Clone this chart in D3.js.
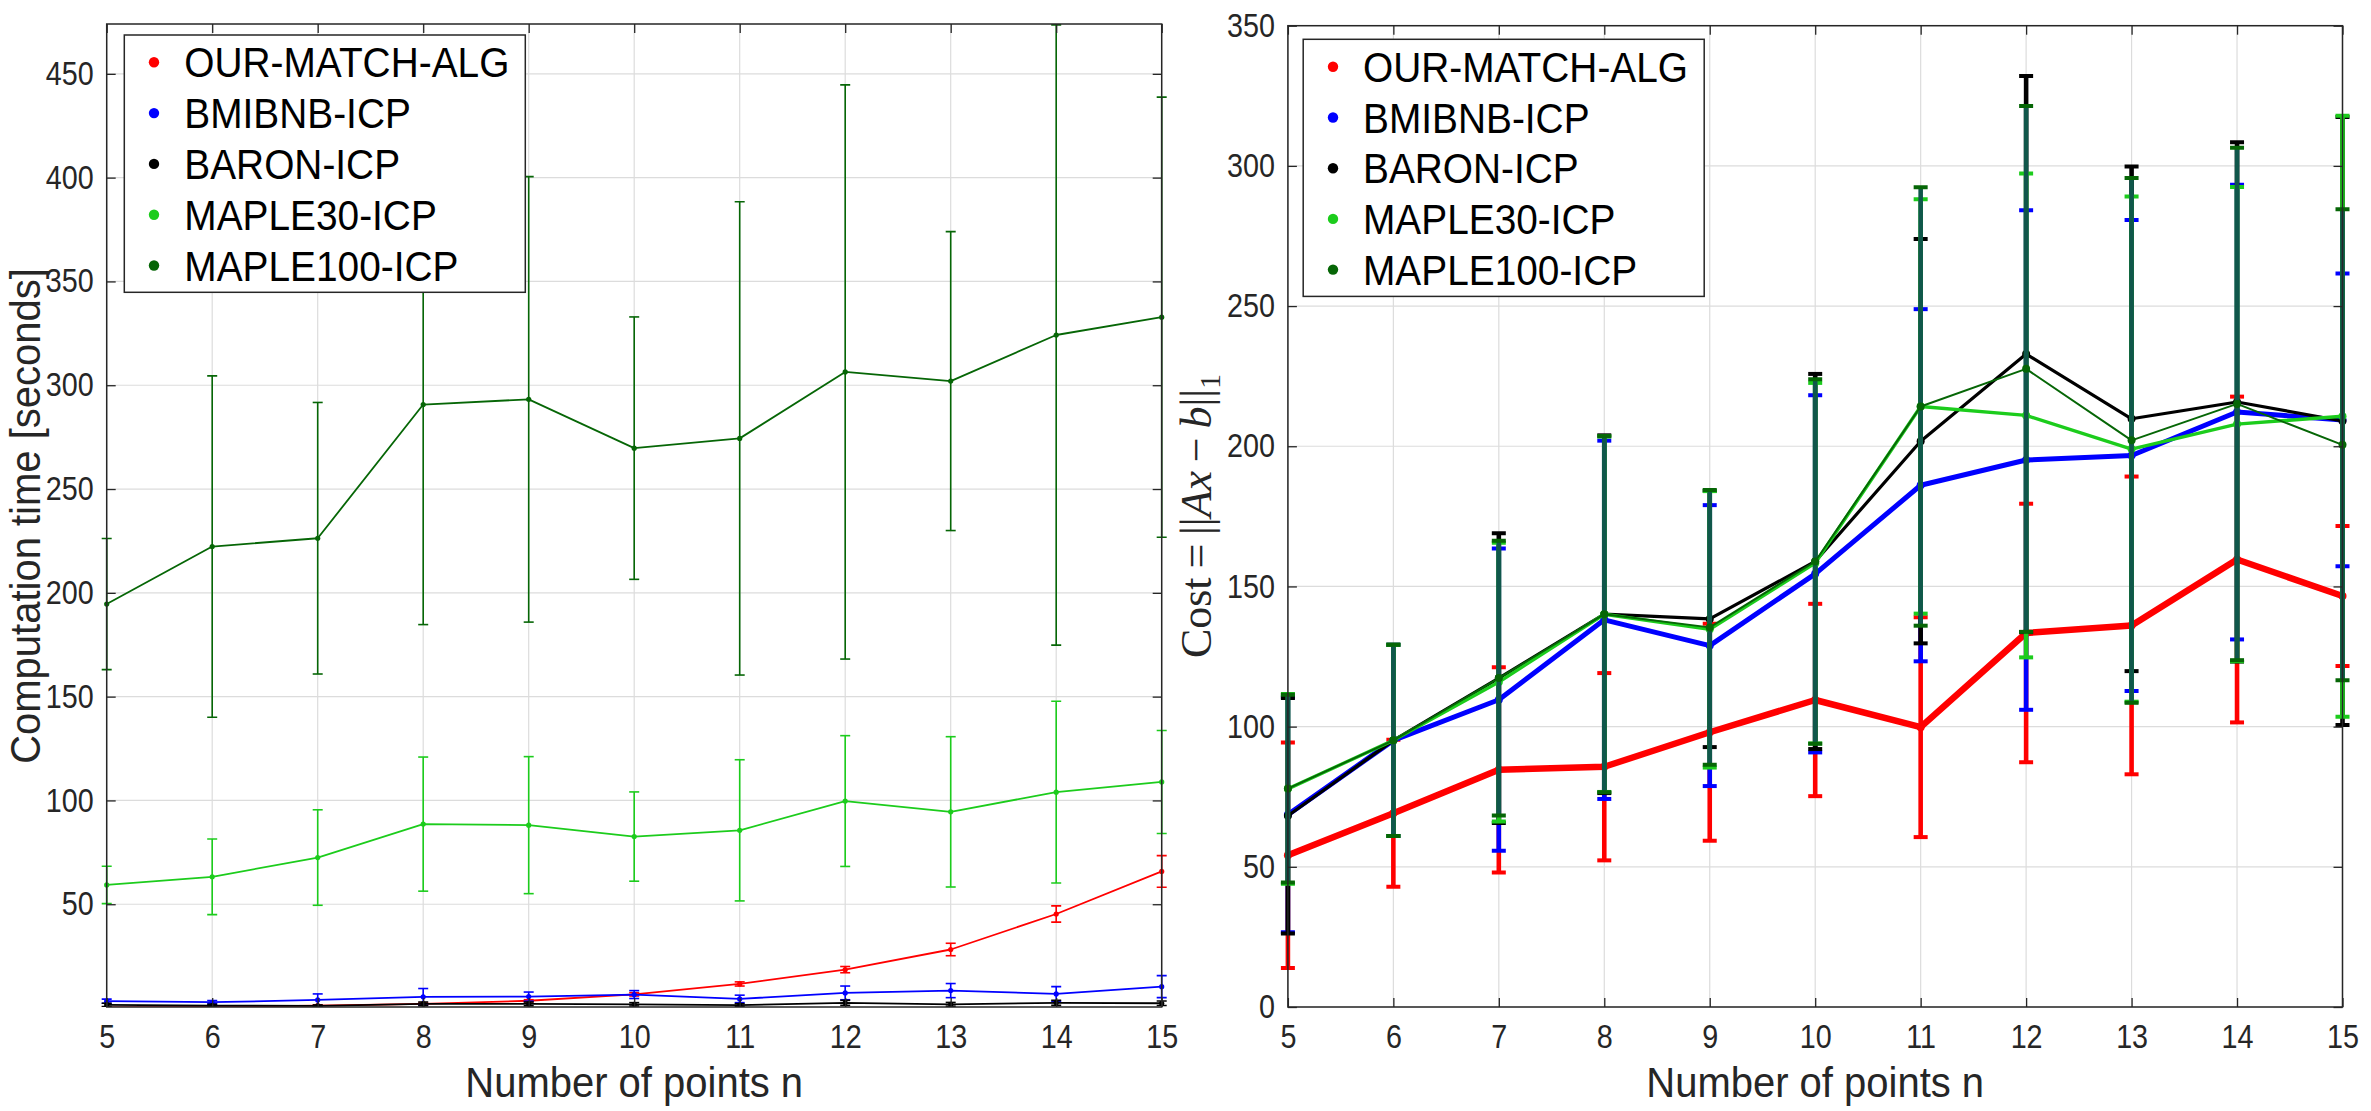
<!DOCTYPE html>
<html>
<head>
<meta charset="utf-8">
<script src="https://cdn.jsdelivr.net/npm/d3@7"></script>
<style>
  body { margin: 0; background: #fff; }
  svg { display: block; }
  text { font-family: "Liberation Sans", Arial, sans-serif; }
</style>
</head>
<body>
<svg id="chart"></svg>
<script>
// x values (number of points n)
const nPoints = [5, 6, 7, 8, 9, 10, 11, 12, 13, 14, 15];

const seriesNames = ["OUR-MATCH-ALG", "BMIBNB-ICP", "BARON-ICP", "MAPLE30-ICP", "MAPLE100-ICP"];
const seriesColors = ["#ff0000", "#0000ff", "#000000", "#1ccc1c", "#066606"];

// left panel: computation time [s], mean and std
const timeOurs = [0.3, 0.6, 1.2, 2.0, 3.5, 6.6, 11.6, 18.5, 28.2, 45.3, 65.8];
const timeOursSd = [0.2, 0.2, 0.3, 0.4, 0.5, 0.8, 1.0, 1.5, 3.0, 3.9, 7.6];
const timeBmibnb = [3.3, 2.8, 3.9, 5.4, 5.5, 6.5, 4.4, 7.3, 8.4, 6.8, 10.3];
const timeBmibnbSd = [1.0, 0.8, 2.9, 4.0, 2.2, 1.9, 1.8, 3.3, 3.4, 3.5, 5.3];
const timeBaron = [1.5, 1.2, 1.0, 2.0, 2.0, 1.8, 1.4, 2.5, 1.8, 2.5, 2.3];
const timeBaronSd = [0.8, 0.6, 0.5, 0.9, 0.9, 0.8, 0.7, 1.2, 0.9, 1.2, 1.1];
const timeMaple30 = [59.3, 63.2, 72.5, 88.6, 88.1, 82.6, 85.6, 99.7, 94.5, 104.0, 108.9];
const timeMaple30Sd = [9.0, 18.2, 23.0, 32.3, 33.0, 21.5, 34.0, 31.5, 36.2, 43.8, 24.8];
const timeMaple100 = [194.6, 222.3, 226.3, 290.7, 293.2, 269.7, 274.4, 306.4, 302.0, 324.2, 332.8];
const timeMaple100Sd = [31.6, 82.2, 65.4, 106.0, 107.3, 63.2, 114.0, 138.3, 72.0, 149.4, 106.0];

// right panel: cost ||Ax-b||_1, mean and std
const costOurs = [54.1, 69.1, 84.6, 85.7, 98.0, 109.5, 99.8, 133.4, 136.1, 159.6, 146.6];
const costOursSd = [40.2, 26.2, 36.6, 33.4, 38.7, 34.3, 39.2, 46.1, 53.1, 58.1, 25.0];
const costBmibnb = [68.6, 95.1, 109.6, 138.1, 128.9, 154.5, 186.1, 195.1, 196.7, 212.2, 209.4];
const costBmibnbSd = [41.9, 34.1, 53.9, 63.9, 50.1, 63.7, 62.8, 89.1, 84.0, 81.1, 52.2];
const costBaron = [68.2, 95.1, 117.3, 140.1, 138.4, 158.9, 201.8, 232.9, 209.8, 215.8, 209.0];
const costBaronSd = [42.0, 34.1, 51.7, 63.8, 45.7, 66.9, 72.1, 99.2, 90.0, 92.6, 108.4];
const costMaple30 = [77.8, 95.1, 115.9, 140.1, 134.7, 158.3, 214.2, 211.0, 199.0, 207.9, 210.7];
const costMaple30Sd = [33.8, 34.1, 49.7, 63.4, 49.3, 64.3, 73.9, 86.3, 90.1, 84.6, 107.2];
const costMaple100 = [77.9, 95.1, 117.3, 140.1, 135.4, 158.9, 214.2, 227.6, 202.1, 215.1, 200.5];
const costMaple100Sd = [33.5, 34.1, 49.0, 63.5, 49.0, 65.0, 78.2, 93.8, 93.6, 91.4, 84.0];

// tick labels
const timeTicks = [50, 100, 150, 200, 250, 300, 350, 400, 450];
const costTicks = [0, 50, 100, 150, 200, 250, 300, 350];

const W = 2371, H = 1111;
const svg = d3.select("#chart").attr("width", W).attr("height", H);
const defs = svg.append("defs");

const panels = [
  {
    id: "time", left: 106.7, right: 1161.7, top: 24, bottom: 1007,
    yDomain: [0.5, 474], yTicks: timeTicks,
    means: [timeOurs, timeBmibnb, timeBaron, timeMaple30, timeMaple100],
    sds: [timeOursSd, timeBmibnbSd, timeBaronSd, timeMaple30Sd, timeMaple100Sd],
    lineWidths: [1.8, 1.8, 1.8, 1.8, 1.8],
    barWidth: 1.6, capHalf: 5, capWidth: 1.6, dot: 2.6,
    barColors: seriesColors,
    legend: { x: 124.3, y: 35, w: 401, h: 257.3, dotX: 154, textX: 184.3, row0: 62.3, step: 50.8 },
    yLabel: "Computation time [seconds]"
  },
  {
    id: "cost", left: 1287.9, right: 2342.5, top: 25.7, bottom: 1007,
    yDomain: [0, 350], yTicks: costTicks,
    means: [costOurs, costBmibnb, costBaron, costMaple30, costMaple100],
    sds: [costOursSd, costBmibnbSd, costBaronSd, costMaple30Sd, costMaple100Sd],
    lineWidths: [6.5, 5, 3.2, 3.4, 2],
    barWidth: 4.6, capHalf: 7, capWidth: 4, dot: 4,
    barColors: ["#ff0000", "#0000ff", "#000000", "#1ccc1c", "#10574b"],
    legend: { x: 1303.2, y: 39.3, w: 401, h: 257.1, dotX: 1333, textX: 1363, row0: 66.8, step: 50.7 },
    yLabel: null
  }
];

// the original font is narrower and taller than Arial
const squeeze = "scale(0.87,1)";

function styleAxis(sel) {
  sel.select(".domain").remove();
  sel.selectAll(".tick line").attr("stroke", "#262626").attr("stroke-width", 1.3);
  sel.selectAll(".tick text").attr("fill", "#262626").attr("font-size", 33)
    .attr("transform", squeeze);
}

function drawPanel(p) {
  const x = d3.scaleLinear().domain([5, 15]).range([p.left, p.right]);
  const y = d3.scaleLinear().domain(p.yDomain).range([p.bottom, p.top]);
  const g = svg.append("g");

  // grid
  g.append("g").selectAll("line").data(nPoints).join("line")
    .attr("x1", d => x(d)).attr("x2", d => x(d))
    .attr("y1", p.top).attr("y2", p.bottom)
    .attr("stroke", "#dcdcdc").attr("stroke-width", 1.2);
  g.append("g").selectAll("line").data(p.yTicks).join("line")
    .attr("x1", p.left).attr("x2", p.right)
    .attr("y1", d => y(d)).attr("y2", d => y(d))
    .attr("stroke", "#dcdcdc").attr("stroke-width", 1.2);

  defs.append("clipPath").attr("id", "clip-" + p.id)
    .append("rect")
    .attr("x", p.left - 14).attr("y", p.top)
    .attr("width", p.right - p.left + 28).attr("height", p.bottom - p.top);

  const plot = g.append("g").attr("clip-path", `url(#clip-${p.id})`);

  p.means.forEach((mean, k) => {
    const pts = nPoints.map((n, i) => ({ n, m: mean[i], sd: p.sds[k][i] }));
    const sg = plot.append("g");

    sg.selectAll(".stem").data(pts).join("line")
      .attr("x1", d => x(d.n)).attr("x2", d => x(d.n))
      .attr("y1", d => y(d.m - d.sd)).attr("y2", d => y(d.m + d.sd))
      .attr("stroke", p.barColors[k]).attr("stroke-width", p.barWidth);

    const caps = pts.flatMap(d => [d.m - d.sd, d.m + d.sd].map(v => ({ n: d.n, v })));
    sg.selectAll(".cap").data(caps).join("line")
      .attr("x1", d => x(d.n) - p.capHalf).attr("x2", d => x(d.n) + p.capHalf)
      .attr("y1", d => y(d.v)).attr("y2", d => y(d.v))
      .attr("stroke", seriesColors[k]).attr("stroke-width", p.capWidth);

    sg.append("path").datum(pts)
      .attr("fill", "none").attr("stroke", seriesColors[k])
      .attr("stroke-width", p.lineWidths[k]).attr("stroke-linejoin", "round")
      .attr("d", d3.line().x(d => x(d.n)).y(d => y(d.m)));

    sg.selectAll("circle").data(pts).join("circle")
      .attr("cx", d => x(d.n)).attr("cy", d => y(d.m)).attr("r", p.dot)
      .attr("fill", seriesColors[k]);
  });

  // axes, ticks pointing inward on all four sides
  g.append("g").attr("transform", `translate(0,${p.bottom})`)
    .call(d3.axisBottom(x).tickValues(nPoints).tickSize(-9).tickSizeOuter(0).tickPadding(18))
    .call(styleAxis);
  g.append("g").attr("transform", `translate(${p.left},0)`)
    .call(d3.axisLeft(y).tickValues(p.yTicks).tickSize(-9).tickSizeOuter(0).tickPadding(15))
    .call(styleAxis);
  g.append("g").attr("transform", `translate(0,${p.top})`)
    .call(d3.axisTop(x).tickValues(nPoints).tickSize(-9).tickSizeOuter(0).tickFormat(""))
    .call(styleAxis);
  g.append("g").attr("transform", `translate(${p.right},0)`)
    .call(d3.axisRight(y).tickValues(p.yTicks).tickSize(-9).tickSizeOuter(0).tickFormat(""))
    .call(styleAxis);

  g.append("rect")
    .attr("x", p.left).attr("y", p.top)
    .attr("width", p.right - p.left).attr("height", p.bottom - p.top)
    .attr("fill", "none").attr("stroke", "#262626").attr("stroke-width", 1.5);

  // x label
  g.append("text")
    .attr("transform", `translate(${(p.left + p.right) / 2},1097) scale(0.93,1)`)
    .attr("text-anchor", "middle").attr("font-size", 43).attr("fill", "#262626")
    .text("Number of points n");

  // legend
  const L = p.legend;
  const lg = g.append("g");
  lg.append("rect").attr("x", L.x).attr("y", L.y).attr("width", L.w).attr("height", L.h)
    .attr("fill", "#fff").attr("stroke", "#262626").attr("stroke-width", 1.5);
  const rows = lg.selectAll(".row").data(seriesNames).join("g")
    .attr("transform", (d, i) => `translate(0,${L.row0 + i * L.step})`);
  rows.append("circle").attr("cx", L.dotX).attr("cy", 0).attr("r", 5.2)
    .attr("fill", (d, i) => seriesColors[i]);
  rows.append("text")
    .attr("transform", `translate(${L.textX},15) scale(0.925,1)`)
    .attr("font-size", 42).attr("fill", "#000").text(d => d);
}

panels.forEach(drawPanel);

// y labels
svg.append("text")
  .attr("transform", "translate(40,516) rotate(-90) scale(0.93,1)")
  .attr("text-anchor", "middle").attr("font-size", 43).attr("fill", "#262626")
  .text(panels[0].yLabel);

const costLabel = svg.append("text")
  .attr("transform", "translate(1211,516) rotate(-90)")
  .attr("text-anchor", "middle").attr("font-size", 44).attr("fill", "#262626")
  .style("font-family", "'Liberation Serif', 'Times New Roman', serif");
costLabel.append("tspan").text("Cost\u2009=\u2009||");
costLabel.append("tspan").attr("font-style", "italic").text("Ax");
costLabel.append("tspan").text("\u2009\u2212\u2009");
costLabel.append("tspan").attr("font-style", "italic").text("b");
costLabel.append("tspan").text("||");
costLabel.append("tspan").attr("font-size", 30).attr("dy", 9).text("1");
</script>
</body>
</html>
